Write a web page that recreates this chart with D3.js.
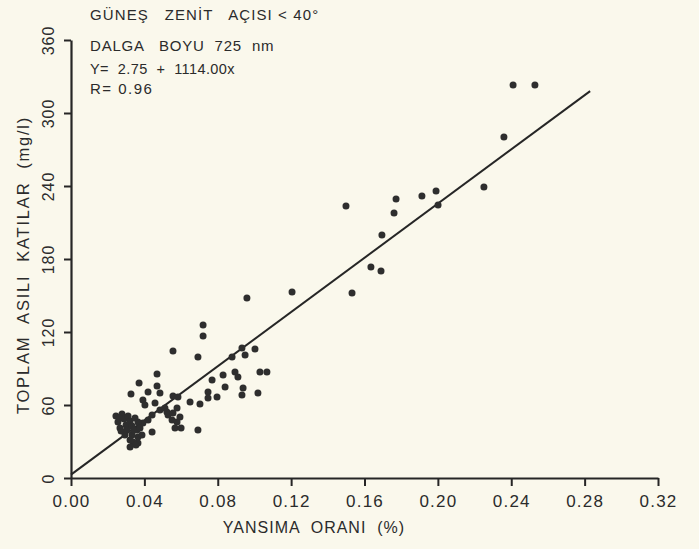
<!DOCTYPE html>
<html>
<head>
<meta charset="utf-8">
<script src="https://cdn.jsdelivr.net/npm/d3@7"></script>
<style>
  html, body { margin: 0; padding: 0; background: #faf8ec; }
  svg { display: block; }
  text { font-family: "Liberation Sans", "DejaVu Sans", sans-serif; fill: #2b2b2b; }
</style>
</head>
<body>
<script>
// ---- Data ----
const xTicks = [0.00, 0.04, 0.08, 0.12, 0.16, 0.20, 0.24, 0.28, 0.32];
const yTicks = [0, 60, 120, 180, 240, 300, 360];
const xTickLabels = ["0.00", "0.04", "0.08", "0.12", "0.16", "0.20", "0.24", "0.28", "0.32"];
const yTickLabels = ["0", "60", "120", "180", "240", "300", "360"];
const titleLines = ["GÜNEŞ   ZENİT   AÇISI < 40°", "DALGA   BOYU  725  nm", "Y=  2.75  +  1114.00x", "R= 0.96"];
const xTitle = "YANSIMA  ORANI  (%)";
const yTitle = "TOPLAM  ASILI  KATILAR  (mg/l)";
const regression = { intercept: 2.75, slope: 1114.00, xStart: 0.0, xEnd: 0.283 };

// reflectance (%) values
const reflectance = [
  0.2410, 0.2529, 0.2360, 0.2251, 0.1499, 0.1772, 0.1913, 0.1990, 0.2001, 0.1761,
  0.1695, 0.1635, 0.1690, 0.1205, 0.1532, 0.0959, 0.0720, 0.0720, 0.0556, 0.0692,
  0.0878, 0.0949, 0.0932, 0.1003, 0.0829, 0.0769, 0.0894, 0.0910, 0.1030, 0.1068,
  0.0840, 0.0747, 0.0747, 0.0796, 0.0938, 0.0932, 0.1019, 0.0649, 0.0703, 0.0692,
  0.0469, 0.0371, 0.0327, 0.0420, 0.0469, 0.0485, 0.0556, 0.0583,
  0.0392, 0.0403, 0.0458, 0.0485, 0.0512, 0.0523, 0.0529, 0.0556, 0.0578, 0.0594,
  0.0551, 0.0578, 0.0567, 0.0600, 0.0442, 0.0420, 0.0392, 0.0365, 0.0360, 0.0365,
  0.0365, 0.0333, 0.0338, 0.0387, 0.0442, 0.0322,
  0.0245, 0.0256, 0.0267, 0.0278, 0.0289, 0.0300, 0.0311, 0.0322, 0.0273, 0.0305,
  0.0333, 0.0349,
  0.0294, 0.0322, 0.0343, 0.0262, 0.0376, 0.0354
];
// total suspended solids (mg/l)
const solids = [
  323.0, 323.0, 280.3, 239.2, 223.6, 229.3, 231.8, 235.9, 224.4, 217.8,
  199.7, 173.4, 170.1, 152.9, 152.1, 147.9, 125.7, 116.7, 104.4, 99.4,
  99.4, 101.1, 106.8, 106.0, 84.7, 80.5, 87.1, 83.0, 87.1, 87.1,
  74.8, 70.7, 65.8, 66.6, 74.0, 68.2, 69.9, 62.5, 60.8, 39.5,
  85.5, 78.1, 69.0, 70.7, 75.6, 69.9, 67.4, 66.6,
  64.1, 60.0, 61.6, 55.9, 57.5, 54.2, 51.8, 53.4, 57.5, 50.1,
  47.7, 46.0, 41.1, 41.1, 51.8, 47.7, 45.2, 46.0, 39.5, 33.7,
  28.8, 35.3, 29.6, 35.3, 37.8, 25.5,
  51.0, 46.0, 41.1, 52.6, 48.5, 43.6, 51.0, 46.8, 38.6, 39.5,
  42.7, 49.3,
  35.3, 31.2, 39.5, 49.3, 41.1, 27.1
];

// ---- Chart ----
const W = 699, H = 549;
const svg = d3.select("body").append("svg").attr("width", W).attr("height", H);

const x = d3.scaleLinear().domain([0, 0.32]).range([71, 658]);
const y = d3.scaleLinear().domain([0, 360]).range([478, 40]);

const ink = "#262626";

// x axis
const xAxis = d3.axisBottom(x).tickValues(xTicks)
  .tickFormat((d, i) => xTickLabels[i]).tickSize(8).tickSizeOuter(0).tickPadding(9);
const gx = svg.append("g").attr("transform", `translate(0,${y(0)})`).call(xAxis);
gx.select(".domain").attr("stroke", ink).attr("stroke-width", 2.2);
gx.selectAll(".tick line").attr("stroke", ink).attr("stroke-width", 2);
gx.selectAll(".tick text").attr("font-size", 17).attr("fill", ink).attr("letter-spacing", 1.2);

// y axis
const yAxis = d3.axisLeft(y).tickValues(yTicks)
  .tickFormat((d, i) => yTickLabels[i]).tickSize(7).tickSizeOuter(0);
const gy = svg.append("g").attr("transform", `translate(${x(0)},0)`).call(yAxis);
gy.select(".domain").attr("stroke", ink).attr("stroke-width", 2.2);
gy.selectAll(".tick line").attr("stroke", ink).attr("stroke-width", 2);
gy.selectAll(".tick text")
  .attr("font-size", 16).attr("fill", ink).attr("letter-spacing", 1)
  .attr("text-anchor", "middle")
  .attr("x", 0).attr("dy", 0).attr("y", 0)
  .attr("transform", "translate(-17,0) rotate(-90)");

// axis titles
svg.append("text")
  .attr("x", 314).attr("y", 533)
  .attr("text-anchor", "middle").attr("font-size", 16).attr("letter-spacing", 1)
  .attr("fill", ink)
  .style("white-space", "pre")
  .text(xTitle);

svg.append("text")
  .attr("transform", `translate(29,265) rotate(-90)`)
  .attr("text-anchor", "middle").attr("font-size", 16.5).attr("letter-spacing", 1.8)
  .attr("fill", ink)
  .style("white-space", "pre")
  .text(yTitle);

// regression line
svg.append("line")
  .attr("x1", x(regression.xStart)).attr("y1", y(regression.intercept + regression.slope * regression.xStart))
  .attr("x2", x(regression.xEnd)).attr("y2", y(regression.intercept + regression.slope * regression.xEnd))
  .attr("stroke", ink).attr("stroke-width", 2);

// points
const pts = reflectance.map((r, i) => ({ r, s: solids[i] }));
svg.append("g").selectAll("circle").data(pts).join("circle")
  .attr("cx", d => x(d.r)).attr("cy", d => y(d.s)).attr("r", 3.5)
  .attr("fill", "#2e2e2e");

// annotation text
const baselines = [20, 51, 74, 94];
const fontSizes = [15, 15, 14.5, 15];
const spacings = [1.1, 0.8, 0.4, 1.5];
svg.append("g").selectAll("text").data(titleLines).join("text")
  .attr("x", 90).attr("y", (d, i) => baselines[i])
  .attr("font-size", (d, i) => fontSizes[i])
  .attr("letter-spacing", (d, i) => spacings[i])
  .attr("fill", "#333")
  .style("white-space", "pre")
  .text(d => d);
</script>
</body>
</html>
